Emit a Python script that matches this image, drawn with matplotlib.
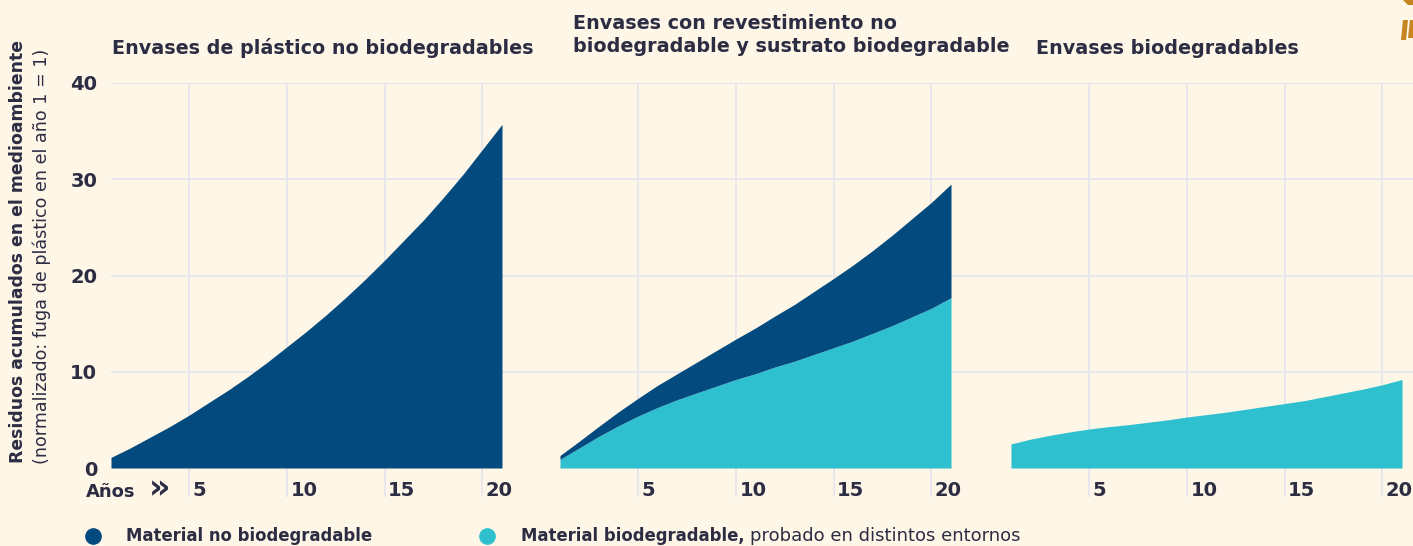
import matplotlib
matplotlib.use("Agg")
import matplotlib.pyplot as plt
from matplotlib.lines import Line2D
from matplotlib.patches import Polygon
import matplotlib.transforms as mtransforms

# ---------------- data ----------------
years = list(range(1, 22))
# Panel 1: non-biodegradable plastic packaging (cumulative residue)
plastic_nonbio = [1.1, 2.1, 3.2, 4.3, 5.5, 6.8, 8.1, 9.5, 11.0, 12.6, 14.2,
                  15.9, 17.7, 19.6, 21.6, 23.7, 25.8, 28.1, 30.5, 33.1, 35.7]
# Panel 2: biodegradable substrate (lower layer) and non-biodegradable coating (upper layer)
coated_bio = [0.9, 2.1, 3.3, 4.4, 5.4, 6.3, 7.1, 7.8, 8.5, 9.2, 9.8,
              10.5, 11.1, 11.8, 12.5, 13.2, 14.0, 14.8, 15.7, 16.6, 17.7]
coated_nonbio = [0.4, 0.7, 1.05, 1.45, 1.85, 2.3, 2.7, 3.2, 3.7, 4.2, 4.75,
                 5.3, 5.9, 6.55, 7.2, 7.9, 8.6, 9.4, 10.2, 11.0, 11.8]
# Panel 3: biodegradable packaging
bio_only = [2.5, 3.0, 3.4, 3.75, 4.05, 4.3, 4.5, 4.75, 5.0, 5.3, 5.55,
            5.8, 6.1, 6.4, 6.7, 7.0, 7.4, 7.8, 8.2, 8.65, 9.2]

panel_titles = ["Envases de plástico no biodegradables",
                "Envases con revestimiento no\nbiodegradable y sustrato biodegradable",
                "Envases biodegradables"]
x_ticks = [5, 10, 15, 20]
x_ticklabels = ["5", "10", "15", "20"]
y_ticks = [0, 10, 20, 30, 40]
y_ticklabels = ["0", "10", "20", "30", "40"]
legend_labels = [("Material no biodegradable", ""),
                 ("Material biodegradable,", "probado en distintos entornos")]
ylabel_bold = "Residuos acumulados en el medioambiente"
ylabel_regular = "(normalizado: fuga de plástico en el año 1 = 1)"
xlabel = "Años"

# ---------------- style ----------------
BG = "#FEF6E7"
NAVY = "#034A7E"
CYAN = "#2EC0CE"
TXT = "#2C2C43"
GRID = "#E6E6EC"
ORANGE = "#C8841E"

plt.rcParams['font.family'] = ['DejaVu Sans']

W, H = 1413, 546
fig = plt.figure(figsize=(W / 100, H / 100), dpi=100, facecolor=BG)


def fx(px):
    return px / W


def fy(py):
    return 1 - py / H


y0_px, y40_px = 468, 83
ax_bottom = fy(y0_px)
ax_height = (y0_px - y40_px) / H

# background axes for continuous horizontal gridlines
bg = fig.add_axes([fx(111), ax_bottom, fx(1413 - 111), ax_height])
bg.set_xlim(0, 1)
bg.set_ylim(0, 40)
bg.set_yticks([10, 20, 30, 40])
bg.grid(axis='y', color=GRID, lw=1.3)
bg.tick_params(left=False, bottom=False, labelleft=False, labelbottom=False)
for s in bg.spines.values():
    s.set_visible(False)
bg.set_facecolor('none')
bg.set_axisbelow(True)

lefts = [111, 560, 1011]
width_px = 391
axes = []
for i, L in enumerate(lefts):
    ax = fig.add_axes([fx(L), ax_bottom, fx(width_px), ax_height])
    ax.set_facecolor('none')
    ax.set_xlim(1, 21)
    ax.set_ylim(0, 40)
    for s in ax.spines.values():
        s.set_visible(False)
    ax.set_xticks(x_ticks)
    ax.set_xticklabels(x_ticklabels, fontsize=14, fontweight='bold', color=TXT)
    ax.grid(axis='x', color=GRID, lw=1.3)
    ax.set_axisbelow(True)
    ax.tick_params(axis='x', length=21, width=1.3, color=GRID, direction='out', pad=-12)
    offset = mtransforms.ScaledTranslation(0.035, 0, fig.dpi_scale_trans)
    for lab in ax.get_xticklabels():
        lab.set_horizontalalignment('left')
        lab.set_transform(lab.get_transform() + offset)
    if i == 0:
        ax.set_yticks(y_ticks)
        ax.set_yticklabels(y_ticklabels, fontsize=14, fontweight='bold', color=TXT)
        ax.tick_params(axis='y', length=0, pad=10)
    else:
        ax.set_yticks([])
    axes.append(ax)

axes[0].fill_between(years, 0, plastic_nonbio, color=NAVY, lw=0)
top2 = [a + b for a, b in zip(coated_bio, coated_nonbio)]
axes[1].fill_between(years, 0, coated_bio, color=CYAN, lw=0)
axes[1].fill_between(years, coated_bio, top2, color=NAVY, lw=0)
axes[2].fill_between(years, 0, bio_only, color=CYAN, lw=0)

# titles
TS = 13.75
fig.text(fx(112), fy(48), panel_titles[0], fontsize=TS, fontweight='bold', color=TXT, va='center', ha='left')
fig.text(fx(573), fy(35), panel_titles[1], fontsize=TS, fontweight='bold', color=TXT, va='center', ha='left',
         linespacing=1.3)
fig.text(fx(1036), fy(48), panel_titles[2], fontsize=TS, fontweight='bold', color=TXT, va='center', ha='left')

# y label (two lines)
fig.text(fx(18), fy(463), ylabel_bold, rotation=90, fontsize=12.4, fontweight='bold', color=TXT,
         ha='center', va='bottom')
fig.text(fx(42), fy(464), ylabel_regular, rotation=90, fontsize=12.6, color=TXT,
         ha='center', va='bottom')

# x label
fig.text(fx(86), fy(492), xlabel, fontsize=13, fontweight='bold', color=TXT, va='center', ha='left')
fig.text(fx(149), fy(489), "»", fontsize=24, fontweight='bold', color=TXT, va='center', ha='left')

# legend
renderer = fig.canvas.get_renderer()
leg_y = 536
for (bold, reg), cx, tx, col in zip(legend_labels, [93, 487], [126, 521], [NAVY, CYAN]):
    fig.add_artist(Line2D([fx(cx)], [fy(leg_y)], transform=fig.transFigure, marker='o',
                          markersize=11, color=col, lw=0))
    t = fig.text(fx(tx), fy(leg_y), bold, fontsize=11.9, fontweight='bold', color=TXT, va='center', ha='left')
    if reg:
        bb = t.get_window_extent(renderer)
        fig.text(fx(bb.x1 + 6), fy(leg_y), reg, fontsize=13, color=TXT, va='center', ha='left')

# corner decoration (cut-off logo pieces)
for xs, ys in [([1401, 1406, 1408, 1403], [40, 40, 20, 20]),
               ([1408, 1413, 1413, 1410], [38, 38, 20, 20]),
               ([1403, 1409, 1413, 1413, 1408], [0, 0, 0, 5, 5])]:
    fig.add_artist(Polygon([(fx(a), fy(b)) for a, b in zip(xs, ys)], closed=True,
                           transform=fig.transFigure, color=ORANGE, lw=0))

fig.savefig("out.png", dpi=100, facecolor=BG)
